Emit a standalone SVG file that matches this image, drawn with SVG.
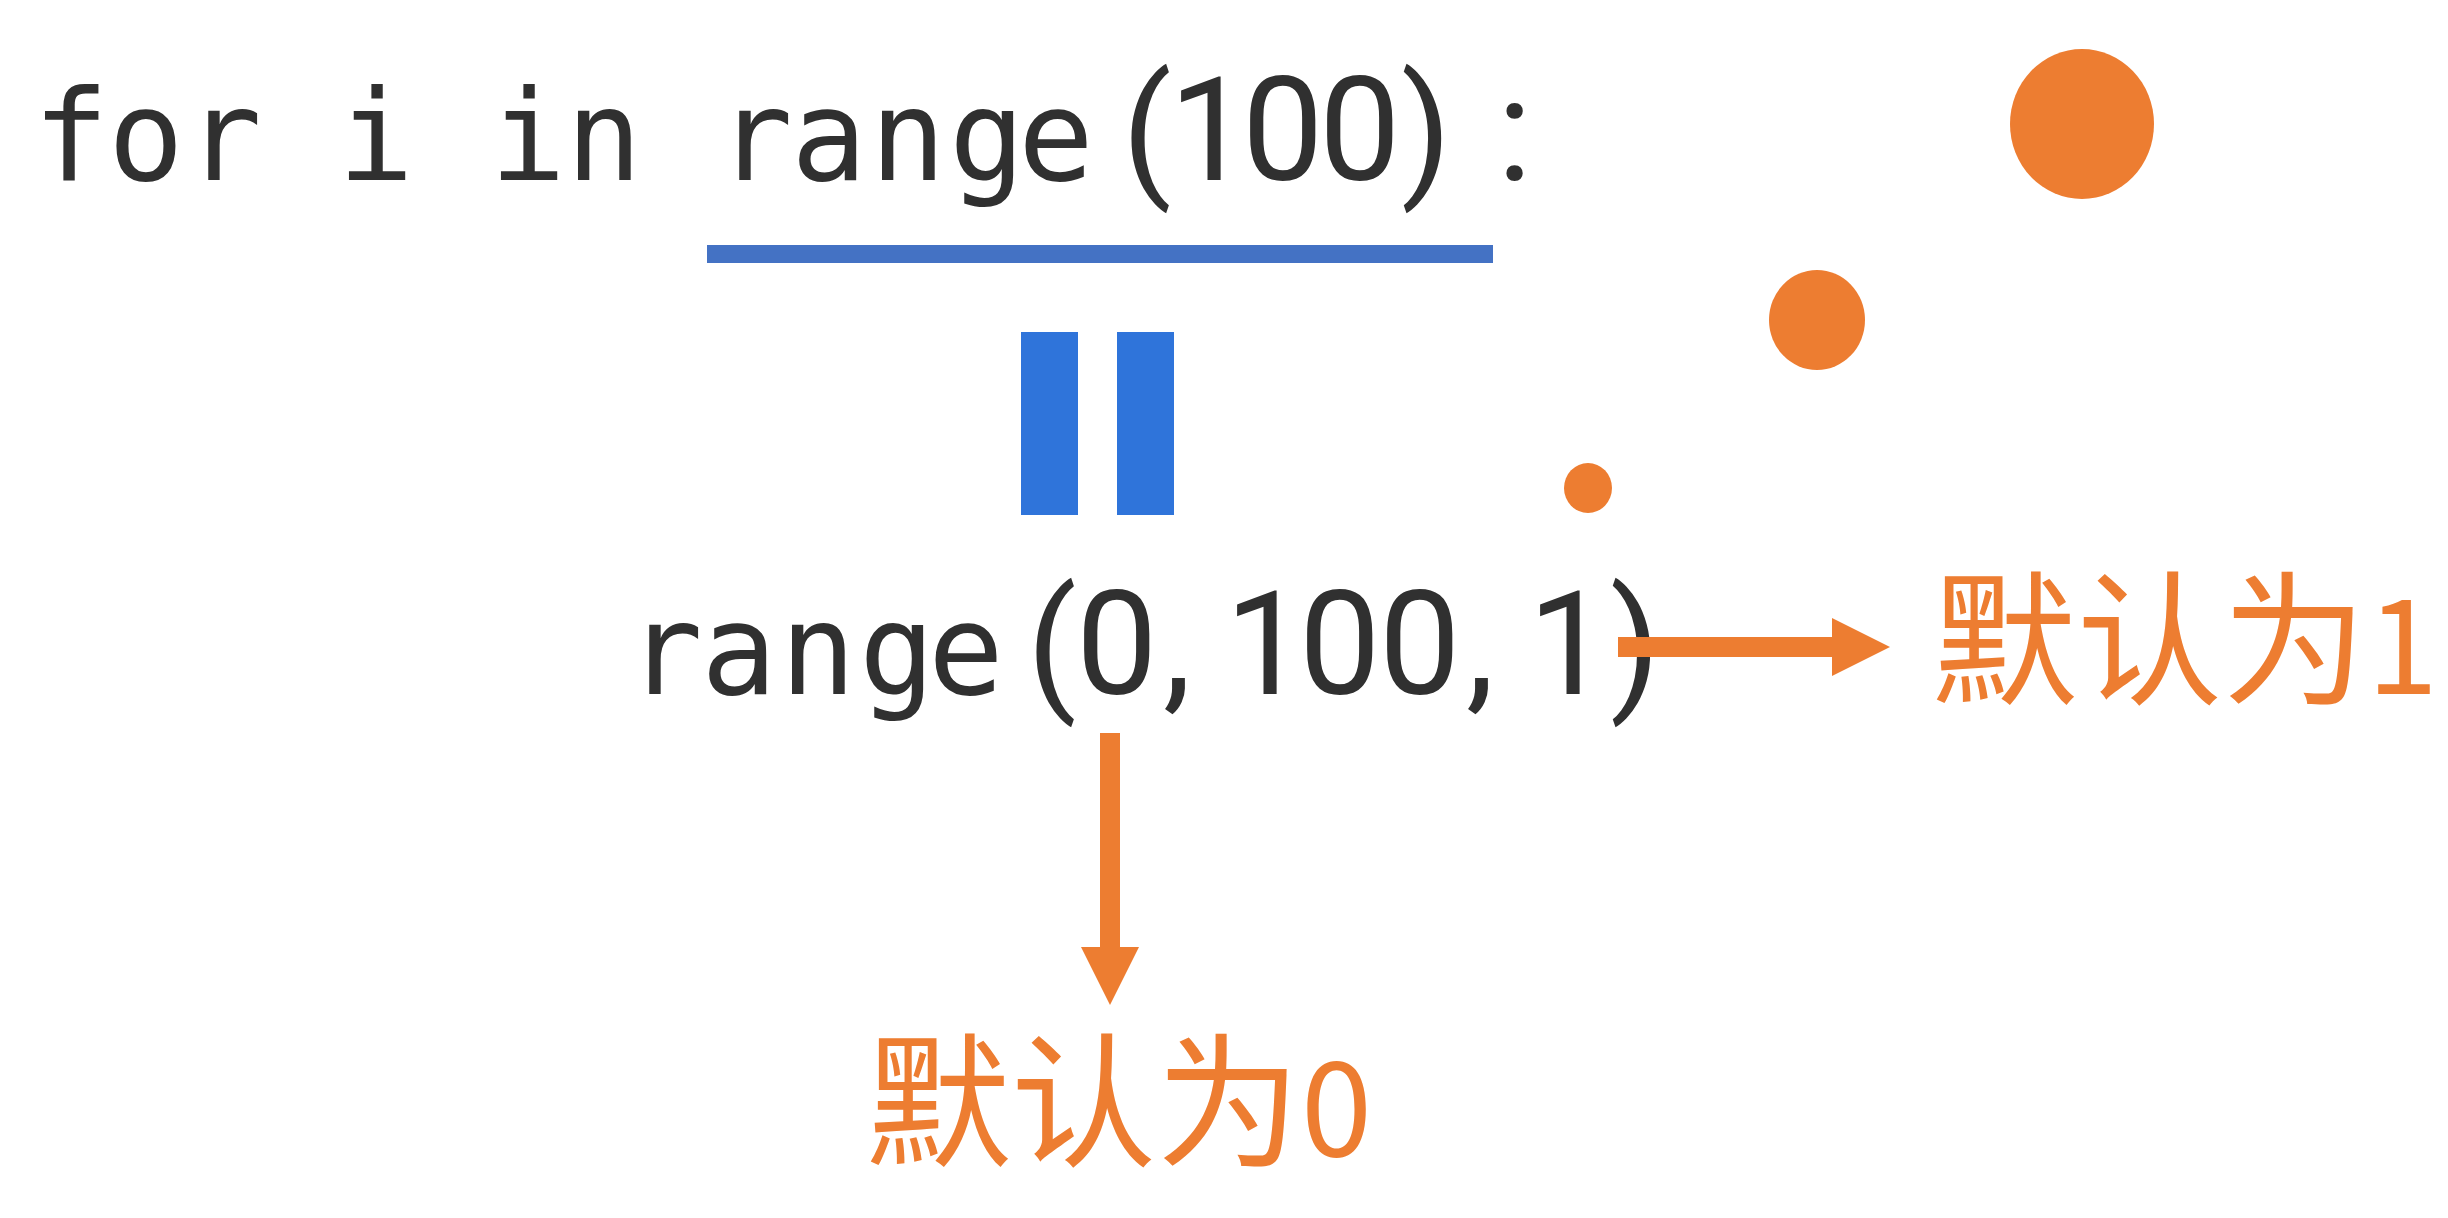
<svg xmlns="http://www.w3.org/2000/svg" width="2448" height="1218" viewBox="0 0 2448 1218">
  <style>
    .code { fill: #303030; }
    .mono { font-family: "DejaVu Sans Mono", "Liberation Mono", monospace; font-size: 126px; }
    .sans { font-family: "Roboto", "Liberation Sans", sans-serif; font-size: 145px; }
    .label { font-family: "Noto Sans CJK SC", "Noto Sans", sans-serif; font-size: 145px; fill: #ED7D31; }
    .num { font-size: 128px; }
    .dot { fill: #ED7D31; }
    .bar { fill: #2F74DA; }
    .conn { stroke: #ED7D31; stroke-width: 20; fill: none; }
  </style>
  <defs>
    <marker id="head" viewBox="0 0 58 58" refX="0" refY="29" markerWidth="58" markerHeight="58" markerUnits="userSpaceOnUse" orient="auto">
      <path d="M0,0 L58,29 L0,58 Z" fill="#ED7D31"/>
    </marker>
  </defs>
  <rect x="0" y="0" width="2448" height="1218" fill="#ffffff"/>

  <g id="for-statement">
    <text class="code" y="180"><tspan class="mono" x="33 108 186 262 338 414 490 566 642">for i in </tspan><tspan class="mono" x="717 791 870 949 1018">range</tspan><tspan class="sans" x="1122 1169 1242 1319 1401 1497">(100):</tspan></text>
    <rect x="707" y="245" width="786" height="18" fill="#4472C4"/>
  </g>

  <g id="equals">
    <rect class="bar" x="1021" y="332" width="57" height="183"/>
    <rect class="bar" x="1117" y="332" width="57" height="183"/>
  </g>

  <g id="range-call">
    <text class="code" y="694"><tspan class="mono" x="627 701 780 859 928">range</tspan><tspan class="sans" x="1027 1076 1163 1200 1225 1299 1379 1466 1500 1528 1610">(0, 100, 1)</tspan></text>
  </g>

  <g id="dots">
    <ellipse class="dot" cx="2082" cy="124" rx="72" ry="75"/>
    <ellipse class="dot" cx="1817" cy="320" rx="48" ry="50"/>
    <ellipse class="dot" cx="1588" cy="488" rx="24" ry="25"/>
  </g>

  <g id="label-step">
    <text class="label" x="1932" y="694">默认为<tspan class="num">1</tspan></text>
  </g>

  <g id="label-start">
    <text class="label" x="866" y="1156">默认为<tspan class="num">0</tspan></text>
  </g>

  <g id="connectors">
    <line class="conn" x1="1618" y1="647" x2="1832" y2="647" marker-end="url(#head)"/>
    <line class="conn" x1="1110" y1="733" x2="1110" y2="947" marker-end="url(#head)"/>
  </g>
</svg>
